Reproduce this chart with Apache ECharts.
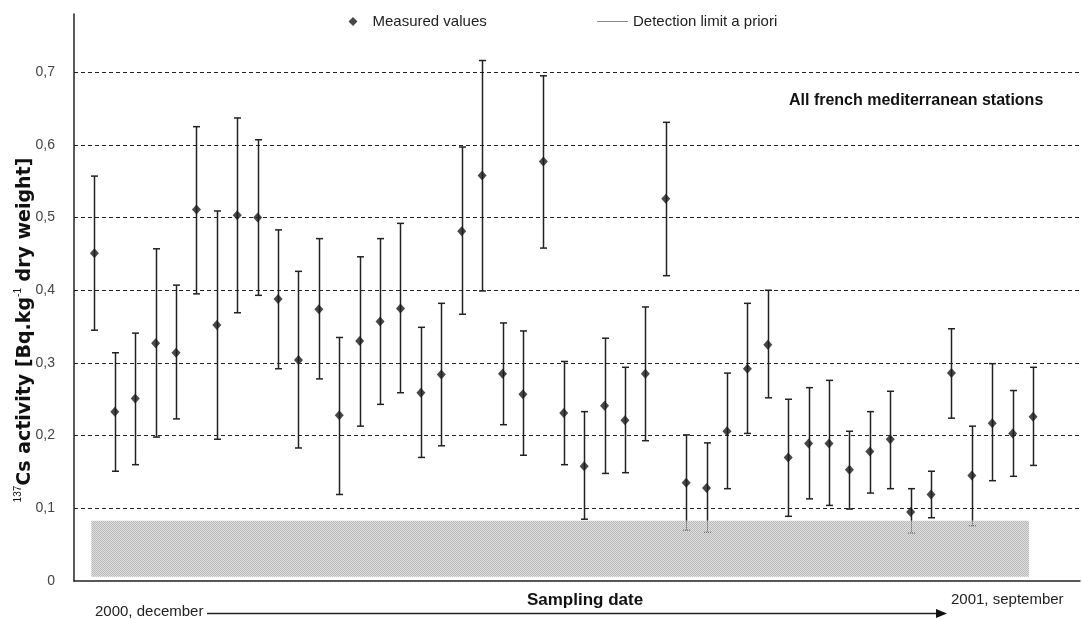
<!DOCTYPE html>
<html>
<head>
<meta charset="utf-8">
<script src="https://cdn.jsdelivr.net/npm/echarts/dist/echarts.min.js"></script>
<style>
html,body{margin:0;padding:0;background:#ffffff;}
#chart{width:1082px;height:619px;}
</style>
</head>
<body>
<div id="chart"></div>
<script>
// ---- data ----
const sampleNo = [1,2,3,4,5,6,7,8,9,10,11,12,13,14,15,16,17,18,19,20,21,22,23,24,25,26,27,28,29,30,31,32,33,34,35,36,37,38,39,40,41,42,43,44,45,46,47];
const measured = [0.451,0.233,0.251,0.327,0.314,0.511,0.352,0.503,0.500,0.388,0.304,0.374,0.228,0.330,0.357,0.375,0.259,0.284,0.481,0.558,0.285,0.257,0.577,0.231,0.158,0.241,0.221,0.285,0.526,0.135,0.128,0.206,0.292,0.325,0.170,0.189,0.189,0.153,0.178,0.195,0.095,0.119,0.286,0.145,0.217,0.203,0.226];
const lowerBound = [0.345,0.151,0.160,0.198,0.223,0.395,0.195,0.369,0.393,0.292,0.183,0.278,0.119,0.213,0.243,0.259,0.170,0.186,0.367,0.399,0.215,0.173,0.458,0.160,0.085,0.148,0.149,0.193,0.420,0.070,0.067,0.127,0.203,0.252,0.089,0.113,0.104,0.099,0.121,0.127,0.066,0.087,0.224,0.076,0.138,0.144,0.159];
const upperBound = [0.557,0.314,0.341,0.457,0.407,0.625,0.509,0.637,0.607,0.483,0.426,0.471,0.335,0.446,0.471,0.492,0.349,0.382,0.597,0.716,0.355,0.344,0.695,0.302,0.233,0.334,0.294,0.377,0.631,0.201,0.190,0.286,0.382,0.400,0.250,0.266,0.276,0.206,0.233,0.261,0.127,0.151,0.347,0.213,0.299,0.262,0.294];
const yTicks = [0.1,0.2,0.3,0.4,0.5,0.6,0.7];
const detectionLimit = 0.083;
const detectionFloor = 0.006;
const detectionSpan = [0.85, 46.8];
const legendNames = ['Measured values', 'Detection limit a priori'];
const stationLabel = 'All french mediterranean stations';
const xAxisTitle = 'Sampling date';
const periodStart = '2000, december';
const periodEnd = '2001, september';

// ---- build ----
const pointData = sampleNo.map((s, i) => [s, measured[i]]);
const barData = sampleNo.map((s, i) => [s, lowerBound[i], upperBound[i]]);
const bandData = [[detectionSpan[0], detectionSpan[1], detectionFloor, detectionLimit]];

const pc = document.createElement('canvas');
pc.width = 2; pc.height = 2;
const pctx = pc.getContext('2d');
pctx.fillStyle = '#e0e0e0'; pctx.fillRect(0,0,2,2);
pctx.fillStyle = '#b8b8b8'; pctx.fillRect(0,0,1,1); pctx.fillRect(1,1,1,1);
const bandPattern = {image: pc, repeat: 'repeat'};

const chart = echarts.init(document.getElementById('chart'), null, {renderer: 'canvas'});
const FONT = '"Liberation Sans", Arial, sans-serif';

const option = {
  animation: false,
  backgroundColor: '#ffffff',
  title: {
    text: stationLabel,
    left: 789, top: 93, padding: 0,
    textStyle: {fontFamily: FONT, fontSize: 16, fontWeight: 'bold', color: '#111'}
  },
  legend: [
    {
      data: [{name: legendNames[0], icon: 'diamond'}],
      left: 348.5, top: 14, padding: 0, itemGap: 0,
      itemWidth: 9, itemHeight: 9, selectedMode: false,
      textStyle: {fontFamily: FONT, fontSize: 15, color: '#222', padding: [0, 0, 0, 10]}
    },
    {
      data: [{name: legendNames[1], icon: 'rect', itemStyle: {color: '#8a8a8a'}}],
      left: 597, top: 14, padding: 0, itemGap: 0,
      itemWidth: 31, itemHeight: 1, selectedMode: false,
      textStyle: {fontFamily: FONT, fontSize: 15, color: '#222'}
    }
  ],
  grid: {left: 74, right: 2, top: 14, bottom: 38, containLabel: false, outerBoundsMode: 'none'},
  xAxis: {
    type: 'value', min: 0, max: 49.3,
    name: xAxisTitle, nameLocation: 'middle', nameGap: 11,
    nameTextStyle: {fontFamily: FONT, fontSize: 17, fontWeight: 'bold', color: '#111', padding: [0,0,0,16]},
    axisLine: {show: true, onZero: false, lineStyle: {color: '#222', width: 1.5}},
    axisTick: {show: false}, axisLabel: {show: false}, splitLine: {show: false}
  },
  yAxis: {
    type: 'value', min: 0, max: 0.78, interval: 0.1,
    axisLine: {show: true, lineStyle: {color: '#222', width: 1.5}},
    axisTick: {show: false},
    splitLine: {show: false},
    axisLabel: {
      showMaxLabel: false, margin: 19,
      fontFamily: FONT, fontSize: 14, color: '#444',
      formatter: v => (v === 0 ? '0' : v.toFixed(1).replace('.', ','))
    }
  },
  series: [
    {
      name: legendNames[1],
      type: 'custom',
      z: 1,
      silent: true,
      itemStyle: {color: '#8a8a8a'},
      data: bandData,
      renderItem: (params, api) => {
        const p0 = api.coord([api.value(0), api.value(3)]);
        const p1 = api.coord([api.value(1), api.value(2)]);
        return {
          type: 'rect',
          shape: {x: p0[0], y: p0[1], width: p1[0] - p0[0], height: p1[1] - p0[1]},
          style: {fill: bandPattern, stroke: null}
        };
      }
    },
    {
      name: 'error bars',
      type: 'custom',
      z: 3,
      silent: true,
      data: barData,
      renderItem: (params, api) => {
        const x = api.value(0), lo = api.value(1), hi = api.value(2);
        const solidLo = Math.max(lo, detectionLimit);
        const pHi = api.coord([x, hi]);
        const pSl = api.coord([x, solidLo]);
        const pLo = api.coord([x, lo]);
        const cx = Math.round(pHi[0]) + 0.5;
        const cap = 3.5;
        const solid = {stroke: '#222', lineWidth: 1.5};
        const dotted = {stroke: '#555', lineWidth: 1, lineDash: [1, 1]};
        const ch = [
          {type: 'line', shape: {x1: cx, y1: pHi[1], x2: cx, y2: pSl[1]}, style: solid},
          {type: 'line', shape: {x1: cx - cap, y1: pHi[1], x2: cx + cap, y2: pHi[1]}, style: solid}
        ];
        if (lo < detectionLimit) {
          ch.push({type: 'line', shape: {x1: cx, y1: pSl[1], x2: cx, y2: pLo[1]}, style: dotted});
          ch.push({type: 'line', shape: {x1: cx - cap, y1: pLo[1], x2: cx + cap, y2: pLo[1]}, style: dotted});
        } else {
          ch.push({type: 'line', shape: {x1: cx - cap, y1: pLo[1], x2: cx + cap, y2: pLo[1]}, style: solid});
        }
        return {type: 'group', children: ch};
      }
    },
    {
      name: legendNames[0],
      type: 'scatter',
      z: 4,
      symbol: 'diamond',
      symbolSize: [9, 10],
      itemStyle: {color: '#1a1a1a'},
      data: pointData,
      markLine: {
        silent: true,
        symbol: ['none', 'none'],
        label: {show: false},
        lineStyle: {type: [4, 3], color: '#222', width: 1},
        emphasis: {disabled: true},
        data: yTicks.map(v => ({yAxis: v}))
      }
    }
  ],
  graphic: [
    {
      type: 'text', x: 25, y: 330, rotation: Math.PI / 2,
      style: {
        text: '{sup|137}{b|Cs activity [Bq.kg}{sup|-1}{b| dry weight]}',
        align: 'center', verticalAlign: 'middle',
        rich: {
          b: {fontFamily: '"DejaVu Sans", sans-serif', fontSize: 19, fontWeight: 'bold', fill: '#111', lineHeight: 23},
          sup: {fontFamily: FONT, fontSize: 10, fill: '#111', lineHeight: 10, verticalAlign: 'top'}
        }
      }
    },
    {
      type: 'text', x: 95, y: 612,
      style: {text: periodStart, fontFamily: FONT, fontSize: 15, fill: '#222', align: 'left', verticalAlign: 'middle'}
    },
    {
      type: 'text', x: 951, y: 600,
      style: {text: periodEnd, fontFamily: FONT, fontSize: 15, fill: '#222', align: 'left', verticalAlign: 'middle'}
    },
    {
      type: 'line', shape: {x1: 207, y1: 613.5, x2: 938, y2: 613.5},
      style: {stroke: '#222', lineWidth: 1.5}
    },
    {
      type: 'polygon', shape: {points: [[936, 609], [947, 613.5], [936, 618]]},
      style: {fill: '#111'}
    }
  ]
};
chart.setOption(option);
</script>
</body>
</html>
